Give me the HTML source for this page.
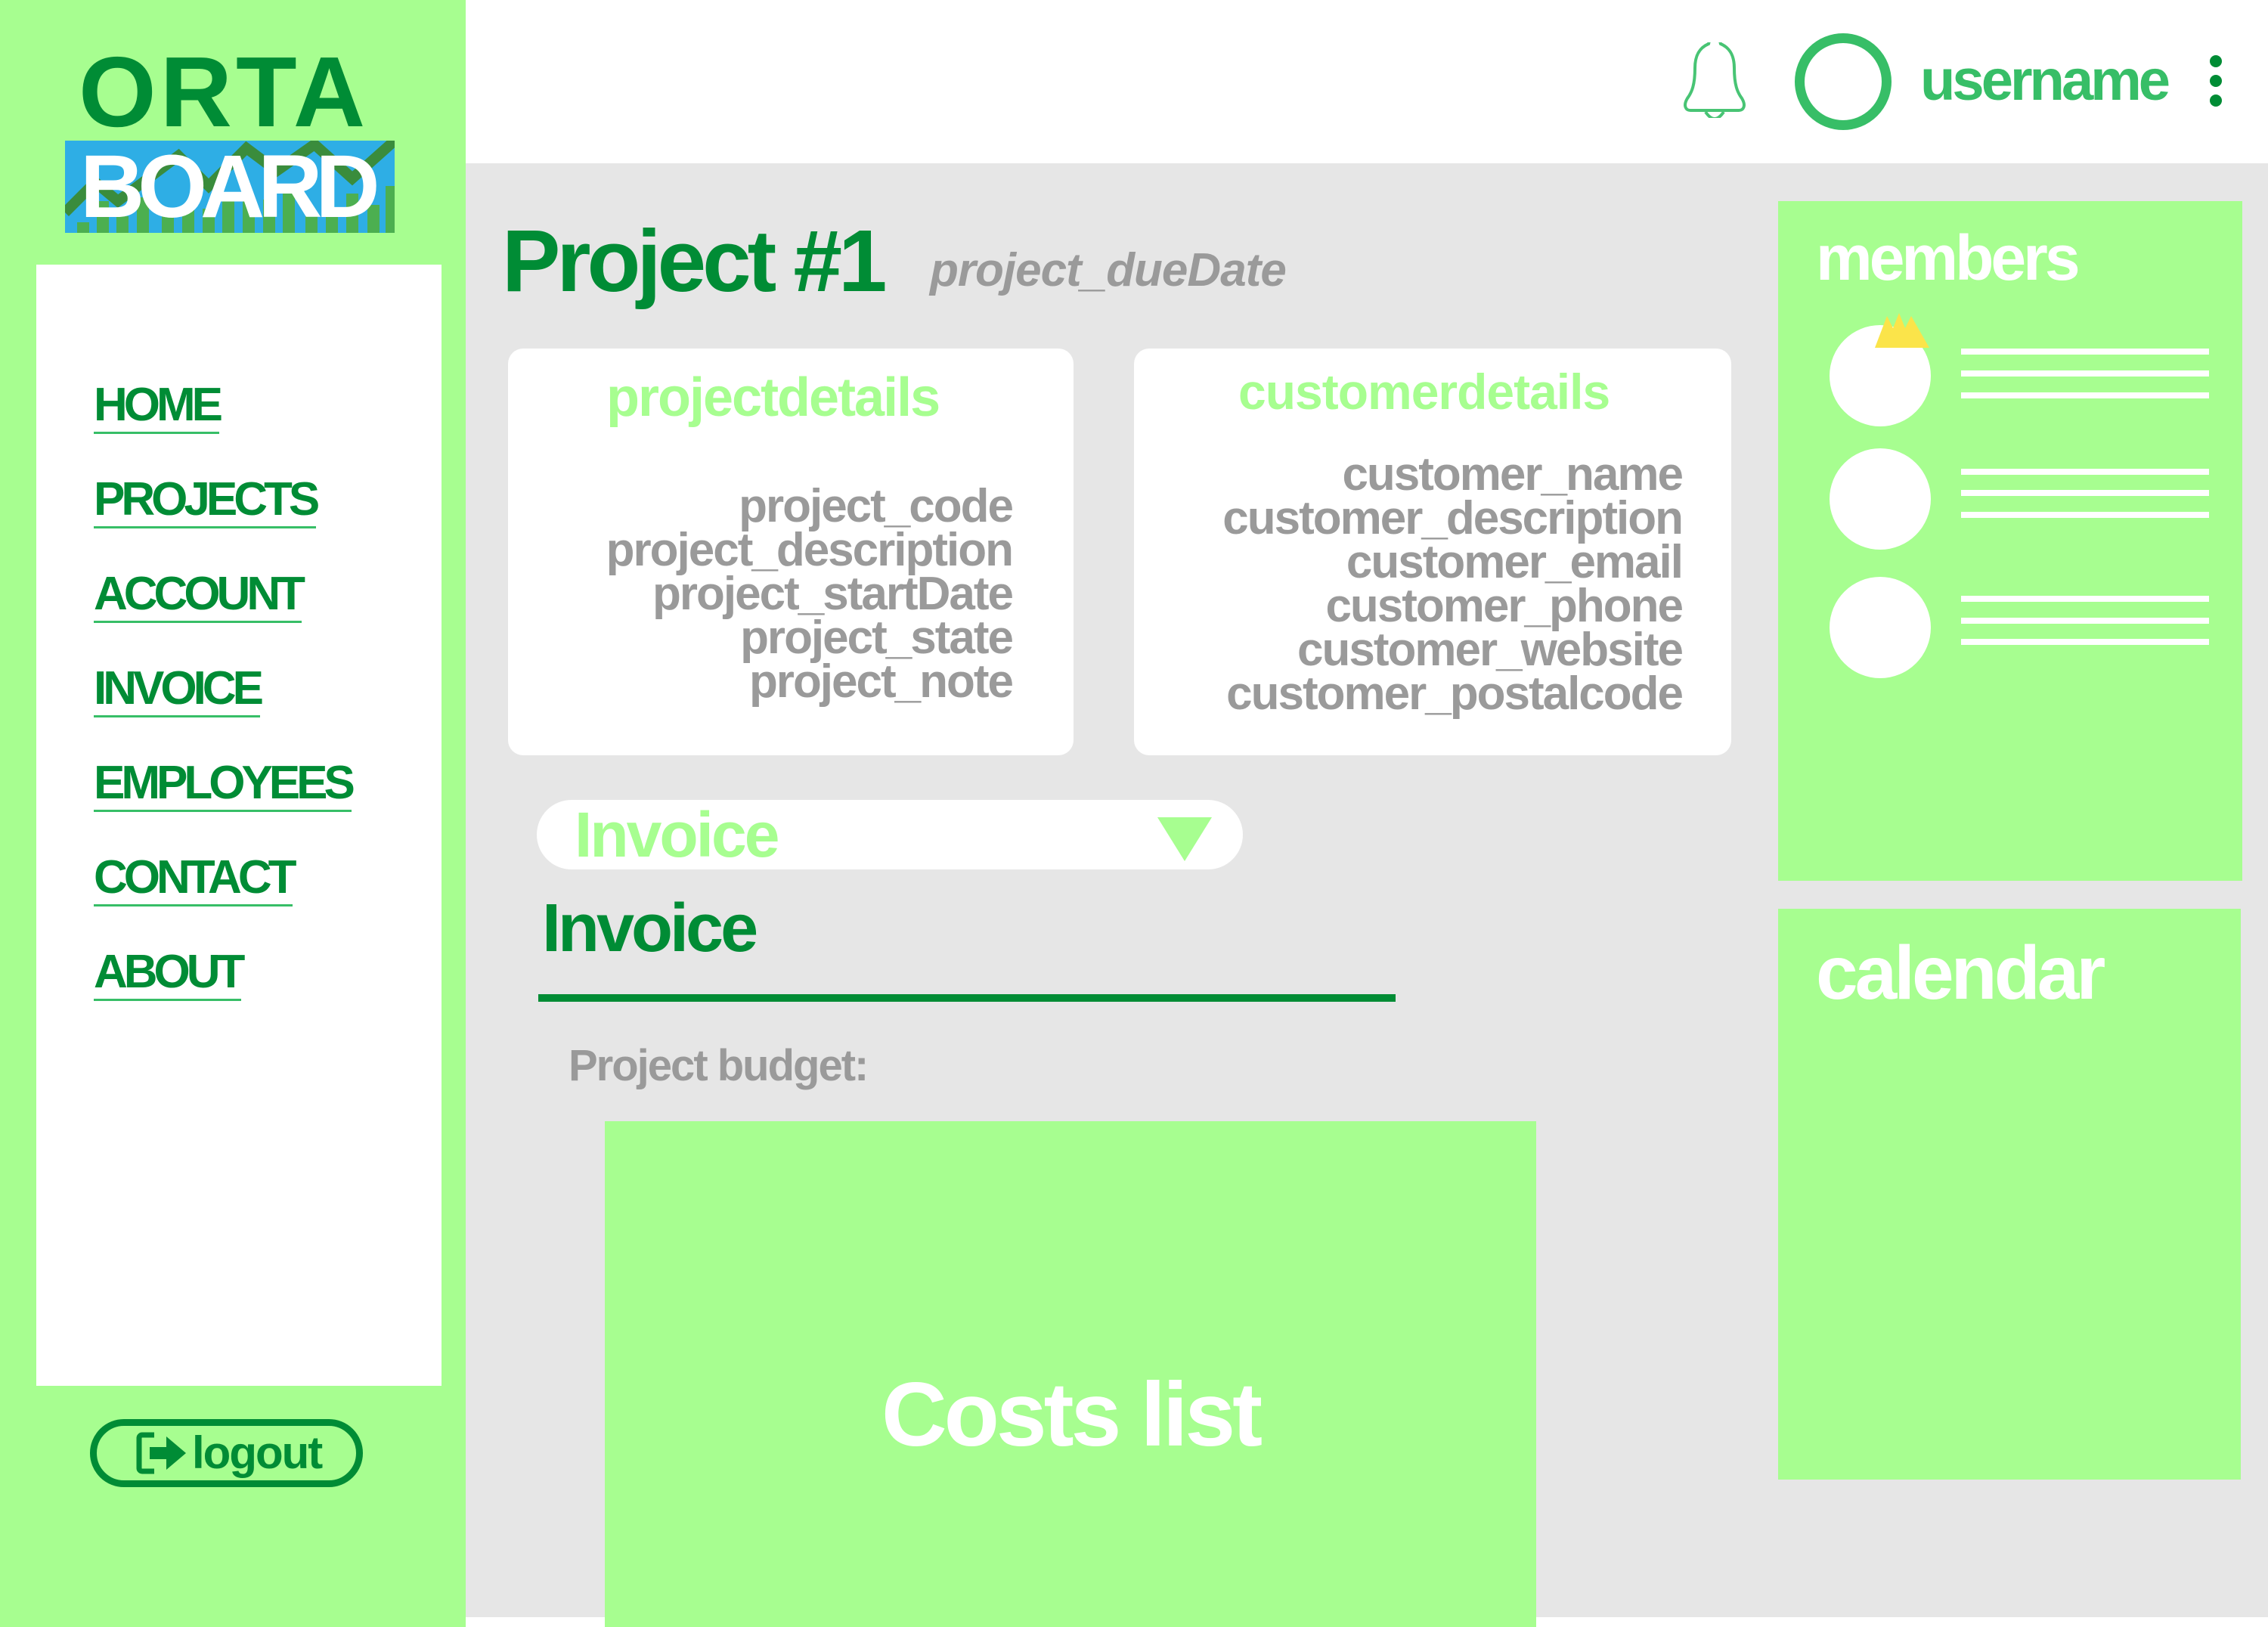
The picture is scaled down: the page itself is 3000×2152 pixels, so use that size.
<!DOCTYPE html>
<html><head><meta charset="utf-8"><style>
*{margin:0;padding:0;box-sizing:border-box}
body{width:3000px;height:2152px;position:relative;overflow:hidden;background:#fff;font-family:"Liberation Sans",sans-serif;font-weight:bold}
.a{position:absolute}
.t{position:absolute;white-space:nowrap}
.nav{position:absolute;left:124px;font-size:62px;letter-spacing:-5px;color:#008c35;border-bottom:3px solid #37be67;line-height:70px}
.g{color:#9a9a9a;font-size:62px;letter-spacing:-2px;line-height:58px;text-align:right;font-weight:bold}
.ln{position:absolute;left:2594px;width:328px;height:8px;background:#fff}
.c{position:absolute;width:134px;height:134px;border-radius:50%;background:#fff;left:2420px}
</style></head><body>
<!-- sidebar -->
<div class="a" style="left:0;top:0;width:616px;height:2152px;background:#a7fe90"></div>
<div class="t" style="left:104px;top:55px;font-size:132px;line-height:134px;color:#008c35;letter-spacing:5px">ORTA</div>
<div class="a" style="left:86px;top:186px;width:436px;height:122px;background:#2eaee5;overflow:hidden">
<svg width="436" height="122" style="position:absolute;left:0;top:0">
<polyline points="0,95 40,55 70,80 150,20 190,60 240,10 280,40 330,5 380,50 436,0" fill="none" stroke="#3a8c3c" stroke-width="14"/>
<g fill="#4caf50"><rect x="16" y="108" width="16" height="14"/><rect x="42" y="80" width="16" height="42"/><rect x="68" y="100" width="16" height="22"/><rect x="95" y="75" width="16" height="47"/><rect x="128" y="100" width="16" height="22"/><rect x="155" y="85" width="16" height="37"/><rect x="182" y="90" width="16" height="32"/><rect x="208" y="80" width="16" height="42"/><rect x="235" y="75" width="16" height="47"/><rect x="262" y="78" width="16" height="44"/><rect x="288" y="60" width="16" height="62"/><rect x="318" y="100" width="16" height="22"/><rect x="345" y="88" width="16" height="34"/><rect x="372" y="70" width="16" height="52"/><rect x="400" y="85" width="16" height="37"/><rect x="424" y="60" width="12" height="62"/></g></svg>
<div class="t" style="left:20px;top:0px;font-size:118px;line-height:122px;color:#fff;letter-spacing:-9px">BOARD</div>
</div>
<div class="a" style="left:48px;top:350px;width:536px;height:1483px;background:#fff"></div>
<div class="nav" style="top:501px">HOME</div>
<div class="nav" style="top:626px">PROJECTS</div>
<div class="nav" style="top:751px">ACCOUNT</div>
<div class="nav" style="top:876px">INVOICE</div>
<div class="nav" style="top:1001px">EMPLOYEES</div>
<div class="nav" style="top:1126px">CONTACT</div>
<div class="nav" style="top:1251px">ABOUT</div>
<div class="a" style="left:119px;top:1877px;width:361px;height:90px;border:9px solid #008c35;border-radius:45px"></div>
<svg class="a" style="left:180px;top:1892px" width="72" height="60" viewBox="0 0 72 60"><path d="M24 6 H8 a4 4 0 0 0 -4 4 V50 a4 4 0 0 0 4 4 H24" fill="none" stroke="#008c35" stroke-width="7"/><path d="M18 22 H40 V8 L66 30 L40 52 V38 H18 Z" fill="#008c35"/></svg>
<div class="t" style="left:254px;top:1882px;font-size:60px;line-height:80px;color:#008c35;letter-spacing:-2px">logout</div>

<!-- header -->
<div class="a" style="left:616px;top:216px;width:2384px;height:1923px;background:#e6e6e6"></div>
<svg class="a" style="left:2222px;top:56px" width="92" height="100" viewBox="0 0 92 100"><path d="M46 4 c-5 0 -7 6 -8 10 c-14 6 -18 18 -18 32 c0 22 -4 32 -10 40 c-6 10 -2 16 4 16 h64 c6 0 10 -6 4 -16 c-6 -8 -10 -18 -10 -40 c0 -14 -4 -26 -18 -32 c-1 -4 -3 -10 -8 -10 z" fill="none" stroke="#48c474" stroke-width="4" transform="translate(0,-12)"/><path d="M34 92 q12 18 24 0" fill="none" stroke="#48c474" stroke-width="4"/></svg>
<div class="a" style="left:2374px;top:44px;width:128px;height:128px;border:13px solid #37be67;border-radius:50%"></div>
<div class="t" style="left:2540px;top:65px;font-size:76px;line-height:84px;color:#37be67;letter-spacing:-4px">username</div>
<div class="a" style="left:2923px;top:73px;width:16px;height:16px;border-radius:50%;background:#008c35"></div>
<div class="a" style="left:2923px;top:99px;width:16px;height:16px;border-radius:50%;background:#008c35"></div>
<div class="a" style="left:2923px;top:125px;width:16px;height:16px;border-radius:50%;background:#008c35"></div>

<!-- title -->
<div class="t" style="left:664px;top:280px;font-size:116px;line-height:130px;color:#008c35;letter-spacing:-5px">Project #1</div>
<div class="t" style="left:1230px;top:322px;font-size:62px;line-height:72px;color:#9a9a9a;font-style:italic;letter-spacing:-1px">project_dueDate</div>

<!-- cards -->
<div class="a" style="left:672px;top:461px;width:748px;height:538px;background:#fff;border-radius:20px"></div>
<div class="t" style="left:802px;top:486px;font-size:72px;line-height:80px;color:#a7fe90;letter-spacing:-2px">projectdetails</div>
<div class="a g" style="right:1661px;top:641px">project_code<br>project_description<br>project_startDate<br>project_state<br>project_note</div>
<div class="a" style="left:1500px;top:461px;width:790px;height:538px;background:#fff;border-radius:20px"></div>
<div class="t" style="left:1638px;top:478px;font-size:66px;line-height:80px;color:#a7fe90;letter-spacing:-1px">customerdetails</div>
<div class="a g" style="right:775px;top:599px">customer_name<br>customer_description<br>customer_email<br>customer_phone<br>customer_website<br>customer_postalcode</div>

<!-- invoice -->
<div class="a" style="left:710px;top:1058px;width:934px;height:92px;background:#fff;border-radius:46px"></div>
<div class="t" style="left:760px;top:1058px;font-size:84px;line-height:92px;color:#a7fe90;letter-spacing:-3px">Invoice</div>
<svg class="a" style="left:1531px;top:1081px" width="72" height="58"><polygon points="0,0 72,0 36,58" fill="#a7fe90"/></svg>
<div class="t" style="left:717px;top:1180px;font-size:90px;line-height:96px;color:#008c35;letter-spacing:-4px">Invoice</div>
<div class="a" style="left:712px;top:1315px;width:1134px;height:10px;background:#008c35"></div>
<div class="t" style="left:752px;top:1378px;font-size:58px;line-height:64px;color:#9a9a9a;letter-spacing:-2px">Project budget:</div>
<div class="a" style="left:800px;top:1483px;width:1232px;height:669px;background:#a7fe90"></div>
<div class="t" style="left:800px;top:1806px;width:1232px;text-align:center;font-size:120px;line-height:130px;color:#fff;letter-spacing:-4px">Costs list</div>

<!-- members -->
<div class="a" style="left:2352px;top:266px;width:614px;height:899px;background:#a7fe90"></div>
<div class="t" style="left:2402px;top:294px;font-size:84px;line-height:94px;color:#fff;letter-spacing:-4px">members</div>
<div class="c" style="top:430px"></div>
<svg class="a" style="left:2480px;top:414px" width="74" height="46"><polygon points="0,46 16,4 24,20 32,0 40,20 48,4 72,46" fill="#fbe44a"/></svg>
<div class="c" style="top:593px"></div>
<div class="c" style="top:763px"></div>
<div class="ln" style="top:461px"></div><div class="ln" style="top:490px"></div><div class="ln" style="top:519px"></div>
<div class="ln" style="top:620px"></div><div class="ln" style="top:648px"></div><div class="ln" style="top:677px"></div>
<div class="ln" style="top:788px"></div><div class="ln" style="top:817px"></div><div class="ln" style="top:845px"></div>

<!-- calendar -->
<div class="a" style="left:2352px;top:1202px;width:612px;height:755px;background:#a7fe90"></div>
<div class="t" style="left:2402px;top:1232px;font-size:100px;line-height:110px;color:#fff;letter-spacing:-4px">calendar</div>
</body></html>
